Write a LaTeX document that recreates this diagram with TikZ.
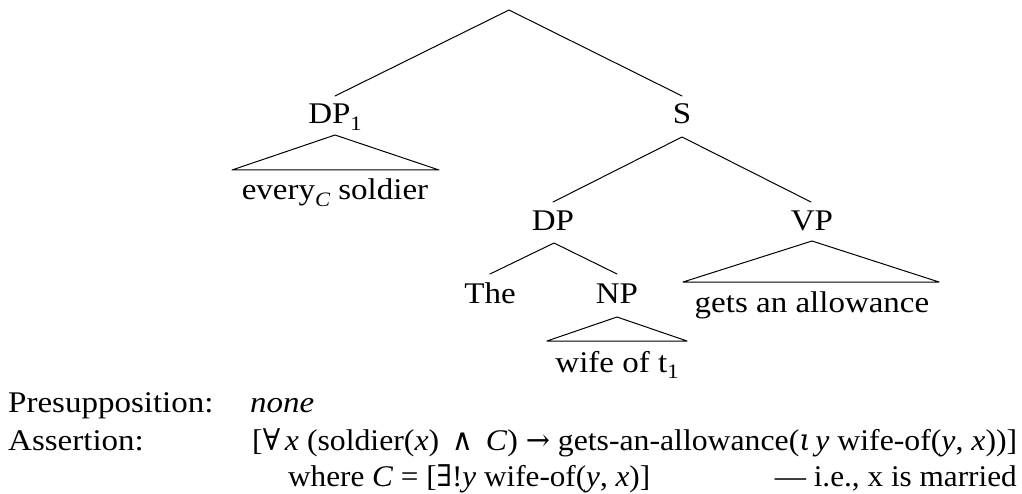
\documentclass[tikz,border=0pt]{standalone}
\usepackage{fontspec}
\usepackage{graphicx}
\setmainfont{Liberation Serif}[FakeStretch=1.1]
\newfontfamily\symf{DejaVu Serif}
\newcommand{\mysub}[1]{\raisebox{-0.22em}{\fontsize{20.5}{20.5}\selectfont #1}}
\begin{document}
\begin{tikzpicture}[x=1pt,y=-1pt]
\tikzset{
  lbl/.style={anchor=base, inner sep=0pt, font=\fontsize{30}{35}\selectfont},
  lbll/.style={anchor=base west, inner sep=0pt, font=\fontsize{30}{35}\selectfont},
  lblr/.style={anchor=base east, inner sep=0pt, font=\fontsize{30}{35}\selectfont},
  branch/.style={line width=1pt, line cap=round, line join=round},
}
\useasboundingbox (0,0) rectangle (1022,494);
% tree coordinates
\coordinate (root) at (509,10);
\coordinate (dpOneTop) at (335,96);
\coordinate (sTop) at (682,96);
\coordinate (dpOneApex) at (335,135);
\coordinate (dpOneL) at (232,170);
\coordinate (dpOneR) at (439,170);
\coordinate (sApex) at (682,137);
\coordinate (dpTop) at (553,202);
\coordinate (vpTop) at (811,202);
\coordinate (dpApex) at (554,243);
\coordinate (theTop) at (490,274);
\coordinate (npTop) at (617,274);
\coordinate (npApex) at (617,317);
\coordinate (npL) at (547,341);
\coordinate (npR) at (687,341);
\coordinate (vpApex) at (812,241);
\coordinate (vpL) at (683,282);
\coordinate (vpR) at (939,282);
% labels
\node[lbl] (dp1) at (335,124) {DP\mysub{1}};
\node[lbl] (s) at (682,124) {S};
\node[lbl] (every) at (335,200) {every\mysub{\itshape C} soldier};
\node[lbl] (dp) at (553,231) {DP};
\node[lbl] (vp) at (812,231) {VP};
\node[lbl] (the) at (490,303) {The};
\node[lbl] (np) at (617,303) {NP};
\node[lbl] (wife) at (617,372) {wife of t\mysub{1}};
\node[lbl] (gets) at (812,312) {gets an allowance};
% branches
\draw[branch] (dpOneTop) -- (root) -- (sTop);
\draw[branch] (dpOneL) -- (dpOneApex) -- (dpOneR) -- cycle;
\draw[branch] (dpTop) -- (sApex) -- (vpTop);
\draw[branch] (theTop) -- (dpApex) -- (npTop);
\draw[branch] (npL) -- (npApex) -- (npR) -- cycle;
\draw[branch] (vpL) -- (vpApex) -- (vpR) -- cycle;
% bottom text
\node[lbll] (presup) at (8,412) {Presupposition:};
\node[lbll] (none) at (250,412) {\textit{none}};
\node[lbll] (assert) at (8,450) {Assertion:};
\node[lbll] (formula) at (252,450) {\resizebox{765pt}{\height}{[{\symf ∀}\,\textit{x} (soldier(\textit{x}) \,{\symf ∧}\, \textit{C}) {\symf →} gets-an-allowance({\symf\itshape ι}\,\textit{y} wife-of(\textit{y}, \textit{x}))]}};
\node[lbll] (where) at (288,486) {\resizebox{362pt}{\height}{where \textit{C} = [{\symf ∃}!\textit{y} wife-of(\textit{y}, \textit{x})]}};
\node[lblr] (ie) at (1017,486) {\resizebox{242pt}{\height}{— i.e., x is married}};
\end{tikzpicture}
\end{document}
